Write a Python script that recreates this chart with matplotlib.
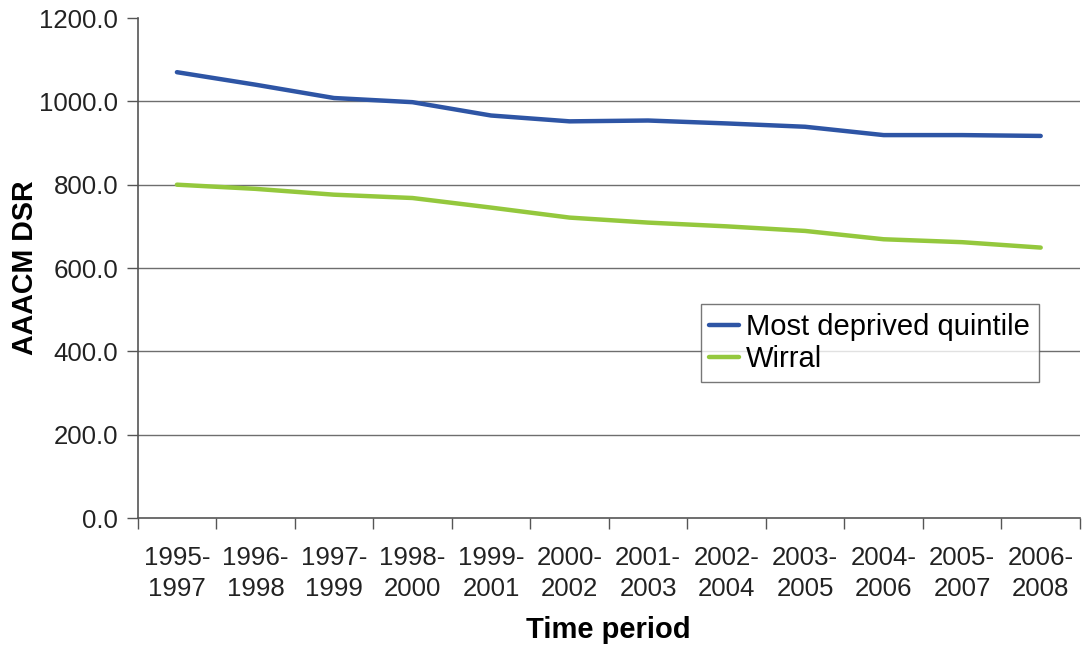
import matplotlib
matplotlib.use("Agg")
import matplotlib.pyplot as plt
import numpy as np

periods = ["1995-\n1997", "1996-\n1998", "1997-\n1999", "1998-\n2000", "1999-\n2001",
           "2000-\n2002", "2001-\n2003", "2002-\n2004", "2003-\n2005", "2004-\n2006",
           "2005-\n2007", "2006-\n2008"]
most_deprived = [1070, 1040, 1008, 998, 966, 952, 954, 947, 939, 919, 919, 917]
wirral = [800, 790, 776, 768, 745, 721, 709, 700, 689, 669, 662, 649]
y_ticks = [0, 200, 400, 600, 800, 1000, 1200]

plt.rcParams['font.family'] = ['Liberation Sans', 'DejaVu Sans']

fig = plt.figure(figsize=(10.83, 6.48), dpi=100)
ax = fig.add_axes([0.1271, 0.2006, 0.8701, 0.7716])

x = np.arange(len(periods))
ax.plot(x, most_deprived, color="#2E55A5", lw=3.2, solid_capstyle="round",
        label="Most deprived quintile", zorder=3)
ax.plot(x, wirral, color="#94C83D", lw=3.2, solid_capstyle="round",
        label="Wirral", zorder=3)

ax.set_xlim(-0.5, len(periods) - 0.5)
ax.set_ylim(0, 1200)
ax.set_yticks(y_ticks)
ax.set_yticklabels([f"{v:.1f}" for v in y_ticks], fontsize=18.6, color="#222222")
for v in y_ticks[1:-1]:
    ax.axhline(v, color="#6e6e6e", lw=1.0, zorder=1)

ax.set_xticks(np.arange(len(periods) + 1) - 0.5)
ax.set_xticklabels([])
ax.set_xticks(x, minor=True)
ax.set_xticklabels(periods, minor=True, fontsize=18.6, color="#222222", linespacing=1.38)
ax.tick_params(axis="x", which="minor", length=0, pad=20)
ax.tick_params(axis="x", which="major", length=8, width=1, color="#555555")
ax.tick_params(axis="y", length=8, width=1, color="#555555", pad=6)

for side in ("top", "right"):
    ax.spines[side].set_visible(False)
for side in ("left", "bottom"):
    ax.spines[side].set_color("#555555")
    ax.spines[side].set_linewidth(1.2)

ax.set_ylabel("AAACM DSR", fontsize=20.6, fontweight="bold", labelpad=0.5)
ax.set_xlabel("Time period", fontsize=21, fontweight="bold", labelpad=11)

leg = ax.legend(loc="upper left", bbox_to_anchor=(0.5975, 0.428), fontsize=21,
                frameon=True, fancybox=False, handlelength=1.0, handletextpad=0.25,
                borderpad=0.3, labelspacing=0.15, borderaxespad=0)
leg.get_frame().set_edgecolor("#555555")
leg.get_frame().set_linewidth(1.0)

fig.savefig("out.png", dpi=100)
